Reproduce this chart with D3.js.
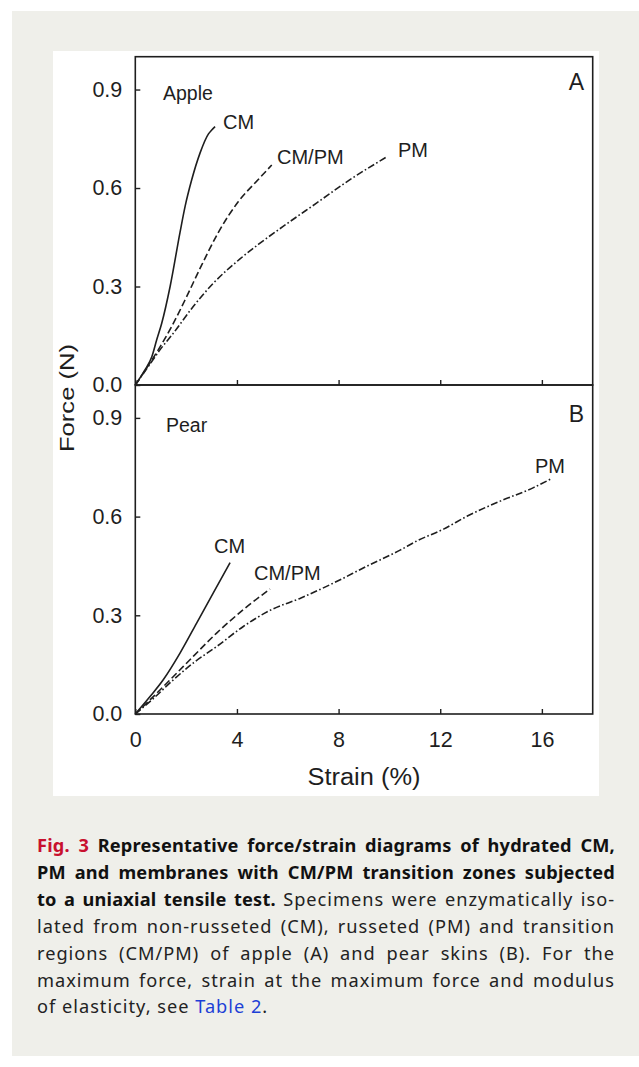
<!DOCTYPE html>
<html><head><meta charset="utf-8">
<script src="https://cdn.jsdelivr.net/npm/d3@7"></script>
<style>body{margin:0;background:#fff}svg{display:block}</style>
</head><body>
<svg id="c" width="639" height="1067"></svg>
<script>
// ---------- data ----------
const strainTicks = [0, 4, 8, 12, 16];
const forceTicks = [0, 0.3, 0.6, 0.9];
const forceTickLabels = ["0.0", "0.3", "0.6", "0.9"];
const strainTickLabels = ["0", "4", "8", "12", "16"];

// Apple (panel A): [strain %, force N]
const appleCM = [[0,0],[0.38,0.046],[0.65,0.086],[0.84,0.137],[1.04,0.188],[1.37,0.30],[1.76,0.465],[1.96,0.544],[2.22,0.625],[2.55,0.707],[2.88,0.765],[3.0,0.776],[3.14,0.787]];
const appleCMPM = [[0,0],[0.45,0.052],[0.91,0.108],[1.43,0.178],[2.02,0.269],[2.61,0.365],[3.27,0.465],[4.05,0.558],[4.84,0.626],[5.37,0.67]];
const applePM = [[0,0],[0.51,0.056],[0.97,0.107],[1.5,0.158],[2.28,0.239],[3.07,0.31],[4.12,0.384],[4.84,0.428],[5.98,0.492],[7.13,0.554],[8.42,0.624],[9.92,0.696]];

// Pear (panel B)
const pearCM = [[0,0],[0.58,0.053],[1.1,0.104],[1.76,0.185],[2.42,0.277],[3.07,0.368],[3.73,0.46]];
const pearCMPM = [[0,0],[0.71,0.053],[1.5,0.114],[2.28,0.175],[3.2,0.246],[4.25,0.317],[5.3,0.38]];
const pearPM = [[0,0],[0.71,0.047],[1.5,0.104],[2.28,0.155],[3.2,0.205],[4.25,0.266],[5.3,0.315],[6.5,0.352],[7.8,0.398],[9.11,0.449],[10.42,0.498],[11.08,0.526],[12.13,0.562],[13.05,0.601],[14.36,0.647],[15.67,0.688],[16.39,0.716]];

const seriesNames = ["CM", "CM/PM", "PM"];

const captionLines = [
  [["Fig. 3", "red"], [" Representative force/strain diagrams of hydrated CM,", "bold"]],
  [["PM and membranes with CM/PM transition zones subjected", "bold"]],
  [["to a uniaxial tensile test.", "bold"], [" Specimens were enzymatically iso-", "normal"]],
  [["lated from non-russeted (CM), russeted (PM) and transition", "normal"]],
  [["regions (CM/PM) of apple (A) and pear skins (B). For the", "normal"]],
  [["maximum force, strain at the maximum force and modulus", "normal"]],
  [["of elasticity, see ", "normal"], ["Table 2", "blue"], [".", "normal"]]
];

// ---------- layout ----------
const svg = d3.select("#c");
const chartFont = "'Liberation Sans', Arial, sans-serif";
const ink = "#1e1e1e";

svg.append("rect").attr("x", 0).attr("y", 0).attr("width", 639).attr("height", 1067).attr("fill", "#fff");
svg.append("rect").attr("x", 12).attr("y", 11).attr("width", 627).attr("height", 1045).attr("fill", "#efefea");
svg.append("rect").attr("x", 53).attr("y", 51).attr("width", 546).attr("height", 745).attr("fill", "#fff");

const x = d3.scaleLinear().domain([0, 18]).range([135.3, 592.7]);
const yA = d3.scaleLinear().domain([0, 1]).range([385, 56.7]);
const yB = d3.scaleLinear().domain([0, 1]).range([714, 385]);

const styles = {
  CM: null,
  "CM/PM": "7,3.2",
  PM: "7,2.4,1.6,2.4"
};

function drawPanel(y, data, showXLabels) {
  const g = svg.append("g");
  const ya = d3.axisLeft(y).tickValues(forceTicks)
    .tickFormat((d, i) => forceTickLabels[i])
    .tickSizeInner(-5).tickSizeOuter(0).tickPadding(13);
  const yg = g.append("g").attr("transform", `translate(${x(0)},0)`).call(ya);
  yg.select(".domain").remove();
  yg.selectAll("line").attr("stroke", ink).attr("stroke-width", 1.4);
  yg.selectAll("text").attr("font-family", chartFont).attr("font-size", 21.5).attr("fill", ink);
  const xa = d3.axisBottom(x).tickValues(strainTicks)
    .tickFormat((d, i) => showXLabels ? strainTickLabels[i] : "")
    .tickSizeInner(-5).tickSizeOuter(0).tickPadding(18);
  const xg = g.append("g").attr("transform", `translate(0,${y(0)})`).call(xa);
  xg.select(".domain").remove();
  xg.selectAll("line").attr("stroke", ink).attr("stroke-width", 1.4);
  xg.selectAll("text").attr("font-family", chartFont).attr("font-size", 21.5).attr("fill", ink);
  g.append("rect").attr("x", x(0)).attr("y", y(1)).attr("width", x(18) - x(0)).attr("height", y(0) - y(1))
    .attr("fill", "none").attr("stroke", ink).attr("stroke-width", 1.6);
  const line = d3.line().x(d => x(d[0])).y(d => y(d[1])).curve(d3.curveMonotoneX);
  data.forEach((s, i) => {
    g.append("path").attr("d", line(s)).attr("fill", "none").attr("stroke", ink)
      .attr("stroke-width", 1.6)
      .attr("stroke-dasharray", styles[seriesNames[i]]);
  });
  return g;
}

drawPanel(yA, [appleCM, appleCMPM, applePM], false);
drawPanel(yB, [pearCM, pearCMPM, pearPM], true);

function label(txt, xx, yy, size, anchor) {
  svg.append("text").attr("x", xx).attr("y", yy).attr("font-family", chartFont)
    .attr("font-size", size).attr("fill", ink).attr("text-anchor", anchor || "start").text(txt);
}
label("Apple", 163, 100, 19.5);
label("A", 584, 90, 23, "end");
label(seriesNames[0], 223, 129, 20);
label(seriesNames[1], 277, 164, 20);
label(seriesNames[2], 398, 157, 20);
label("Pear", 166, 432, 19.5);
label("B", 584, 422, 23, "end");
label(seriesNames[0], 214, 553, 20);
label(seriesNames[1], 254, 580, 20);
label(seriesNames[2], 535, 473, 20);

svg.append("text").attr("x", (x(0) + x(18)) / 2).attr("y", 785)
  .attr("text-anchor", "middle").attr("font-family", chartFont).attr("font-size", 23).attr("fill", ink)
  .attr("textLength", 113).attr("lengthAdjust", "spacingAndGlyphs").text("Strain (%)");
svg.append("text").attr("transform", "translate(74,398) rotate(-90)")
  .attr("text-anchor", "middle").attr("font-family", chartFont).attr("font-size", 21).attr("fill", ink)
  .attr("textLength", 108).attr("lengthAdjust", "spacingAndGlyphs").text("Force (N)");

// ---------- caption ----------
const capFont = "'Noto Sans', 'Open Sans', sans-serif";
const capX0 = 37, capX1 = 615, capY0 = 852, capLH = 26.9;
const capStyle = {
  red: { w: 700, c: "#c8102e", ls: 0.2 },
  bold: { w: 700, c: "#111", ls: 0.2 },
  normal: { w: 400, c: "#222", ls: 1.0 },
  blue: { w: 400, c: "#1d3fd6", ls: 1.0 }
};
const capSize = 18.2;
captionLines.forEach((segs, li) => {
  const t = svg.append("text").attr("y", capY0 + li * capLH)
    .attr("font-family", capFont).attr("font-size", capSize);
  const last = li === captionLines.length - 1;
  if (last) {
    t.attr("x", capX0).attr("xml:space", "preserve").style("white-space", "pre");
    segs.forEach(([s, st]) => {
      t.append("tspan").attr("font-weight", capStyle[st].w).attr("fill", capStyle[st].c)
        .attr("letter-spacing", capStyle[st].ls).text(s);
    });
    return;
  }
  const words = [];
  segs.forEach(([s, st]) => s.split(/\s+/).filter(w => w.length).forEach(w => words.push([w, st])));
  const spans = words.map(([w, st]) => t.append("tspan").attr("font-weight", capStyle[st].w)
    .attr("fill", capStyle[st].c).attr("letter-spacing", capStyle[st].ls).attr("x", capX0).text(w));
  const widths = spans.map(s => s.node().getComputedTextLength());
  const total = d3.sum(widths);
  const gap = (capX1 - capX0 - total) / (words.length - 1);
  let cx = capX0;
  spans.forEach((s, i) => { s.attr("x", cx); cx += widths[i] + gap; });
});
</script>
</body></html>
